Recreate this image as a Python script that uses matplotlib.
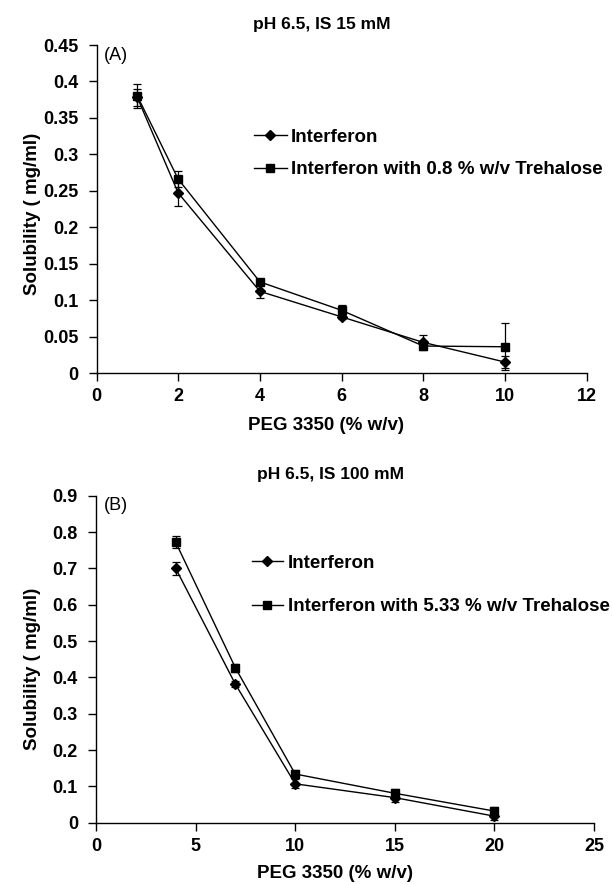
import numpy as np
import matplotlib
matplotlib.use("Agg")
import matplotlib.pyplot as plt
from matplotlib.lines import Line2D

plt.rcParams['font.family'] = ['Liberation Sans', 'DejaVu Sans']

# panel A: pH 6.5, IS 15 mM
peg_a = [1, 2, 4, 6, 8, 10]
ifn_a = [0.378, 0.247, 0.112, 0.077, 0.042, 0.015]
ifn_a_err = [0.012, 0.018, 0.009, 0.003, 0.010, 0.008]
tre_a = [0.380, 0.266, 0.125, 0.086, 0.037, 0.036]
tre_a_err = [0.016, 0.011, 0.004, 0.007, 0.004, 0.032]

# panel B: pH 6.5, IS 100 mM
peg_b = [4, 7, 10, 15, 20]
ifn_b = [0.700, 0.381, 0.107, 0.069, 0.018]
ifn_b_err = [0.017, 0.008, 0.012, 0.011, 0.010]
tre_b = [0.772, 0.426, 0.134, 0.081, 0.032]
tre_b_err = [0.016, 0.011, 0.011, 0.012, 0.011]

W, H = 612, 884


def fx(px):
    return px / W


def fy(py):
    return 1 - py / H


def panel(ax, x, y1, e1, y2, e2, lab2, tag, xlim, xticks, ylim, yticks):
    ax.errorbar(x, y1, yerr=e1, color='black', lw=1.0, marker='D', ms=5.5,
                capsize=3, elinewidth=0.9, capthick=0.9)
    ax.errorbar(x, y2, yerr=e2, color='black', lw=1.0, marker='s', ms=6,
                capsize=3, elinewidth=0.9, capthick=0.9)
    ax.set_xlim(*xlim)
    ax.set_ylim(*ylim)
    ax.set_xticks(xticks)
    ax.set_yticks(yticks)
    ax.set_yticklabels(['0' if v == 0 else ('%g' % v) for v in yticks])
    for s in ('top', 'right'):
        ax.spines[s].set_visible(False)
    for s in ('left', 'bottom'):
        ax.spines[s].set_linewidth(1.0)
    ax.tick_params(direction='out', length=6, width=1.0, labelsize=13)
    ax.tick_params(axis='x', pad=5)
    ax.tick_params(axis='y', pad=7)
    for t in ax.get_xticklabels() + ax.get_yticklabels():
        t.set_fontweight('bold')
    ax.text(0.015, 0.995, tag, transform=ax.transAxes, fontsize=13, va='top', ha='left')
    handles = [Line2D([], [], color='black', lw=1.0, marker='D', ms=5.5),
               Line2D([], [], color='black', lw=1.0, marker='s', ms=6)]
    return handles, ['Interferon', lab2]


fig = plt.figure(figsize=(W / 100, H / 100), dpi=100)

# panel A
ax1 = fig.add_axes([fx(96.5), fy(373), fx(586.7) - fx(96.5), fy(45) - fy(373)])
h, l = panel(ax1, peg_a, ifn_a, ifn_a_err, tre_a, tre_a_err,
             'Interferon with 0.8 % w/v Trehalose', '(A)',
             (0, 12), np.arange(0, 13, 2), (0, 0.45), np.round(np.arange(0, 0.451, 0.05), 2))
leg = fig.legend(h, l, loc='center left', bbox_to_anchor=(fx(254), fy(153.5)),
                 frameon=False, fontsize=13.5, handlelength=1.75, handletextpad=0.2,
                 labelspacing=0.8, borderpad=0, borderaxespad=0)
for t in leg.get_texts():
    t.set_fontweight('bold')
fig.text(fx(322), fy(25), 'pH 6.5, IS 15 mM', ha='center', va='center',
         fontsize=12.5, fontweight='bold')
fig.text(fx(326), fy(425), 'PEG 3350 (% w/v)', ha='center', va='center',
         fontsize=13.5, fontweight='bold')
fig.text(fx(33), fy(214), 'Solubility ( mg/ml)', ha='center', va='center',
         rotation=90, fontsize=13.5, fontweight='bold')

# panel B
ax2 = fig.add_axes([fx(96), fy(822.7), fx(594) - fx(96), fy(495.7) - fy(822.7)])
h, l = panel(ax2, peg_b, ifn_b, ifn_b_err, tre_b, tre_b_err,
             'Interferon with 5.33 % w/v Trehalose', '(B)',
             (0, 25), np.arange(0, 26, 5), (0, 0.9), np.round(np.arange(0, 0.91, 0.1), 1))
leg = fig.legend(h, l, loc='center left', bbox_to_anchor=(fx(252), fy(585)),
                 frameon=False, fontsize=13.5, handlelength=1.65, handletextpad=0.25,
                 labelspacing=1.4, borderpad=0, borderaxespad=0)
for t in leg.get_texts():
    t.set_fontweight('bold')
fig.text(fx(330.6), fy(475), 'pH 6.5, IS 100 mM', ha='center', va='center',
         fontsize=12.5, fontweight='bold')
fig.text(fx(335), fy(873), 'PEG 3350 (% w/v)', ha='center', va='center',
         fontsize=13.5, fontweight='bold')
fig.text(fx(33), fy(669), 'Solubility ( mg/ml)', ha='center', va='center',
         rotation=90, fontsize=13.5, fontweight='bold')

fig.savefig('out.png', dpi=100)
